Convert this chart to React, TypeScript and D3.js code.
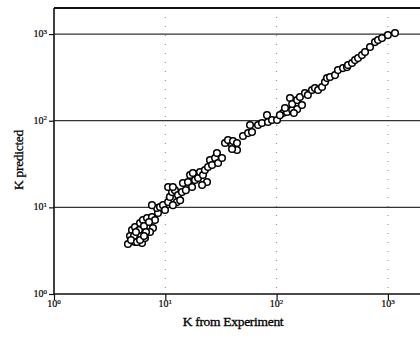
import React, { useEffect, useRef } from "react";
import * as d3 from "d3";

// K from experiment (x) and K predicted (y)
const kExperiment = [
  4.62, 5.02, 5.34, 5.68, 6.18, 6.57, 5.02, 5.34, 5.57, 5.93, 6.18, 6.30, 6.85, 6.99, 7.59, 8.08,
  7.75, 4.82, 7.29, 8.60, 5.23, 5.80, 6.44, 7.14, 6.05, 6.71, 4.92, 5.57, 5.93, 6.44, 5.45,
  8.42, 8.96, 9.54, 9.94, 10.6, 11.0, 11.5, 12.2, 13.0, 12.7, 11.7, 13.6, 14.1, 10.6, 11.7, 7.59,
  14.4, 16.7, 16.0, 17.7, 18.5, 19.7, 20.5, 21.8, 22.7, 24.2, 25.2, 26.3, 28.0, 29.1, 29.8, 32.3,
  23.7, 21.4, 17.4, 15.3,
  34.4, 36.6, 39.8, 40.6, 44.1, 44.1, 39.8, 49.9, 55.4, 57.7, 60.1, 68.1, 73.9, 82.0, 83.7, 90.9, 101,
  114, 124, 138, 153, 132, 138, 153, 162, 180, 191, 208, 221, 236, 256, 272, 284, 302, 335, 356, 395,
  429, 438, 476, 506, 539, 585, 623, 691, 766, 815, 885, 1000, 1158, 169, 119, 107, 143
];
const kPredicted = [
  3.78, 4.20, 3.98, 4.43, 3.88, 4.43, 5.47, 5.93, 4.79, 6.60, 5.19, 7.14, 7.53, 5.93, 7.73, 7.14,
  5.77, 4.67, 5.19, 8.60, 4.67, 5.47, 6.09, 6.77, 4.67, 5.19, 4.20, 3.98, 4.20, 4.67, 5.19,
  9.82, 10.1, 10.6, 9.32, 11.5, 13.2, 15.0, 15.8, 13.9, 11.5, 10.6, 12.1, 15.0, 17.2, 17.2, 10.6,
  19.1, 23.6, 19.6, 24.9, 20.7, 21.8, 25.6, 23.6, 27.0, 29.2, 35.2, 30.8, 37.1, 42.4, 32.5, 37.1,
  19.6, 18.1, 17.2, 15.8,
  55.3, 59.8, 52.4, 58.3, 55.3, 45.9, 47.1, 66.5, 72.0, 89.1, 74.0, 89.1, 94.0, 116, 96.5, 102, 102,
  123, 126, 133, 136, 183, 156, 173, 188, 208, 198, 226, 238, 226, 245, 279, 311, 319, 336, 384, 405,
  416, 439, 463, 501, 528, 572, 620, 708, 808, 853, 899, 973, 1027, 152, 140, 116, 123
];

const decades = [1, 10, 100, 1000];
const decadeExponents = ["0", "1", "2", "3"];
const minorSteps = [2, 3, 4, 5, 6, 7, 8, 9];

const W = 420;
const H = 345;
const serif = "'Liberation Serif', 'DejaVu Serif', serif";

export default function App() {
  const ref = useRef<SVGSVGElement>(null);

  useEffect(() => {
    const svg = d3.select(ref.current).html("");

    const left = 54, top = 8, bottom = 294;
    const x = d3.scaleLog().domain([1, 2000]).range([left, 421.4]);
    const y = d3.scaleLog().domain([1, 2000]).range([bottom, top]);

    const minor = decades.flatMap(d => minorSteps.map(m => d * m)).filter(v => v < 2000);

    // dotted vertical grid
    svg.append("g")
      .selectAll("line")
      .data(decades.slice(1))
      .join("line")
      .attr("x1", d => x(d)).attr("x2", d => x(d))
      .attr("y1", top).attr("y2", bottom)
      .attr("stroke", "#888")
      .attr("stroke-width", 1)
      .attr("stroke-dasharray", "1,8");

    // solid horizontal grid
    svg.append("g")
      .selectAll("line")
      .data(decades.slice(1))
      .join("line")
      .attr("x1", left).attr("x2", W)
      .attr("y1", d => y(d)).attr("y2", d => y(d))
      .attr("stroke", "#333")
      .attr("stroke-width", 1.3);

    // top frame line
    svg.append("line")
      .attr("x1", left).attr("x2", W)
      .attr("y1", top).attr("y2", top)
      .attr("stroke", "#111")
      .attr("stroke-width", 2);

    // points
    const pts = kExperiment.map((k, i) => ({ kx: k, ky: kPredicted[i] }));
    svg.append("g")
      .selectAll("circle")
      .data(pts)
      .join("circle")
      .attr("cx", d => x(d.kx))
      .attr("cy", d => y(d.ky))
      .attr("r", 3.3)
      .attr("fill", "#fff")
      .attr("stroke", "#000")
      .attr("stroke-width", 1.5);

    // axes
    const gx = svg.append("g").attr("transform", `translate(0,${bottom})`);
    gx.call(d3.axisBottom(x).tickValues(minor).tickSize(4).tickFormat(() => ""));
    gx.call(d3.axisBottom(x).tickValues(decades).tickSize(6).tickFormat(() => ""));
    gx.selectAll(".domain").remove();
    gx.selectAll("line").attr("stroke", "#111").attr("stroke-width", 1.2);
    svg.append("line")
      .attr("x1", left).attr("x2", W)
      .attr("y1", bottom).attr("y2", bottom)
      .attr("stroke", "#111").attr("stroke-width", 1.6);

    const gy = svg.append("g").attr("transform", `translate(${left},0)`);
    gy.call(d3.axisLeft(y).tickValues(minor).tickSize(3).tickFormat(() => ""));
    gy.call(d3.axisLeft(y).tickValues(decades).tickSize(5).tickFormat(() => ""));
    gy.selectAll(".domain").remove();
    gy.selectAll("line").attr("stroke", "#111").attr("stroke-width", 1.2);
    svg.append("line")
      .attr("x1", left).attr("x2", left)
      .attr("y1", top).attr("y2", bottom)
      .attr("stroke", "#111").attr("stroke-width", 1.6);

    // tick labels with superscripts
    const xl = svg.append("g")
      .selectAll("text")
      .data(decades)
      .join("text")
      .attr("x", d => x(d))
      .attr("y", 307)
      .attr("text-anchor", "middle")
      .attr("font-family", serif)
      .attr("font-size", 10)
      .attr("fill", "#000")
      .attr("stroke", "#000")
      .attr("stroke-width", 0.2);
    xl.append("tspan").text("10");
    xl.append("tspan").attr("font-size", 7).attr("dy", -3.5).text((d, i) => decadeExponents[i]);

    const yl = svg.append("g")
      .selectAll("text")
      .data(decades)
      .join("text")
      .attr("x", 47)
      .attr("y", d => y(d) + 3)
      .attr("text-anchor", "end")
      .attr("font-family", serif)
      .attr("font-size", 10)
      .attr("fill", "#000")
      .attr("stroke", "#000")
      .attr("stroke-width", 0.2);
    yl.append("tspan").text("10");
    yl.append("tspan").attr("font-size", 7).attr("dy", -3.5).text((d, i) => decadeExponents[i]);

    // axis titles
    svg.append("text")
      .attr("x", 233)
      .attr("y", 326)
      .attr("text-anchor", "middle")
      .attr("font-family", serif)
      .attr("font-size", 13.5)
      .attr("letter-spacing", -0.3)
      .attr("fill", "#000")
      .attr("stroke", "#000")
      .attr("stroke-width", 0.3)
      .text("K from Experiment");

    svg.append("text")
      .attr("transform", "translate(23,160) rotate(-90)")
      .attr("text-anchor", "middle")
      .attr("font-family", serif)
      .attr("font-size", 13.5)
      .attr("letter-spacing", -0.3)
      .attr("fill", "#000")
      .attr("stroke", "#000")
      .attr("stroke-width", 0.3)
      .text("K predicted");
  }, []);

  return (
    <svg
      ref={ref}
      width={W}
      height={H}
      style={{ position: "absolute", left: 0, top: 0, background: "#fff" }}
    />
  );
}
